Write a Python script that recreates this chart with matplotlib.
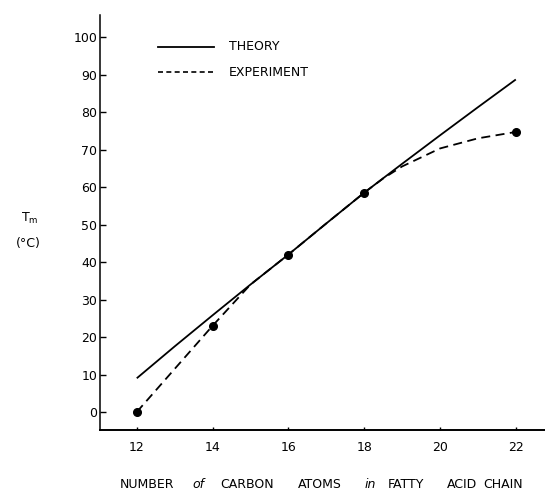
import numpy as np
import matplotlib.pyplot as plt

# values
carbon = [12, 13, 14, 15, 16, 17, 18, 19, 20, 21, 22]
tm_theory = [9.0, 17.5, 25.8, 34.0, 42.0, 50.3, 58.5, 66.2, 73.8, 81.3, 88.7]

exp_curve_x = [12, 13, 14, 15, 16, 17, 18, 18.5, 19, 20, 21, 22]
exp_curve_y = [0.0, 11.5, 23.0, 34.0, 42.0, 50.3, 58.5, 62.3, 65.5, 70.3, 73.0, 74.7]

exp_points_x = [12, 14, 16, 18, 22]
exp_points_y = [0.0, 23.0, 42.0, 58.5, 74.7]

x_ticks = [12, 14, 16, 18, 20, 22]
y_ticks = [0, 10, 20, 30, 40, 50, 60, 70, 80, 90, 100]

xlabel_words = ['NUMBER', 'of', 'CARBON', 'ATOMS', 'in', 'FATTY', 'ACID', 'CHAIN']
xlabel_pos = [120, 192, 220, 298, 365, 388, 447, 483]   # pixel x of each word

W, H = 545, 491
fig = plt.figure(figsize=(W / 100, H / 100), dpi=100)
ax = fig.add_axes([100 / W, 61 / H, 445 / W, 415 / H])

ax.plot(carbon, tm_theory, color='black', lw=1.3, solid_capstyle='butt')
ax.plot(exp_curve_x, exp_curve_y, color='black', lw=1.3, dashes=(5, 3))
ax.plot(exp_points_x, exp_points_y, 'o', color='black', ms=5.5)

ax.set_xlim(11.03, 22.77)
ax.set_ylim(-4.8, 105.9)
ax.set_xticks(x_ticks)
ax.set_yticks(y_ticks)
ax.spines['top'].set_visible(False)
ax.spines['right'].set_visible(False)
ax.spines['left'].set_linewidth(1.1)
ax.spines['bottom'].set_linewidth(1.4)
ax.tick_params(axis='y', direction='in', length=4, width=1, pad=2, labelsize=9)
ax.tick_params(axis='x', direction='in', length=2.5, width=1, pad=8, labelsize=9)

# legend drawn by hand, like the original lettering
ax.plot([158, 214], [H - 47, H - 47], color='black', lw=1.3,
        transform=None, clip_on=False)
ax.plot([158, 214], [H - 72, H - 72], color='black', lw=1.2, dashes=(3, 2),
        transform=None, clip_on=False)
fig.text(229 / W, 1 - 47 / H, 'THEORY', fontsize=9, va='center')
fig.text(229 / W, 1 - 72 / H, 'EXPERIMENT', fontsize=9, va='center')

# y axis label
fig.text(30 / W, 1 - 218 / H, r'T$_{\rm m}$', fontsize=9, ha='center', va='center')
fig.text(28 / W, 1 - 243 / H, '(°C)', fontsize=9, ha='center', va='center')

# x axis label, spread out word by word
for word, px in zip(xlabel_words, xlabel_pos):
    style = 'italic' if word.islower() else 'normal'
    fig.text(px / W, 1 - 484 / H, word, fontsize=9, style=style, va='center')

fig.savefig('out.png', dpi=100)
